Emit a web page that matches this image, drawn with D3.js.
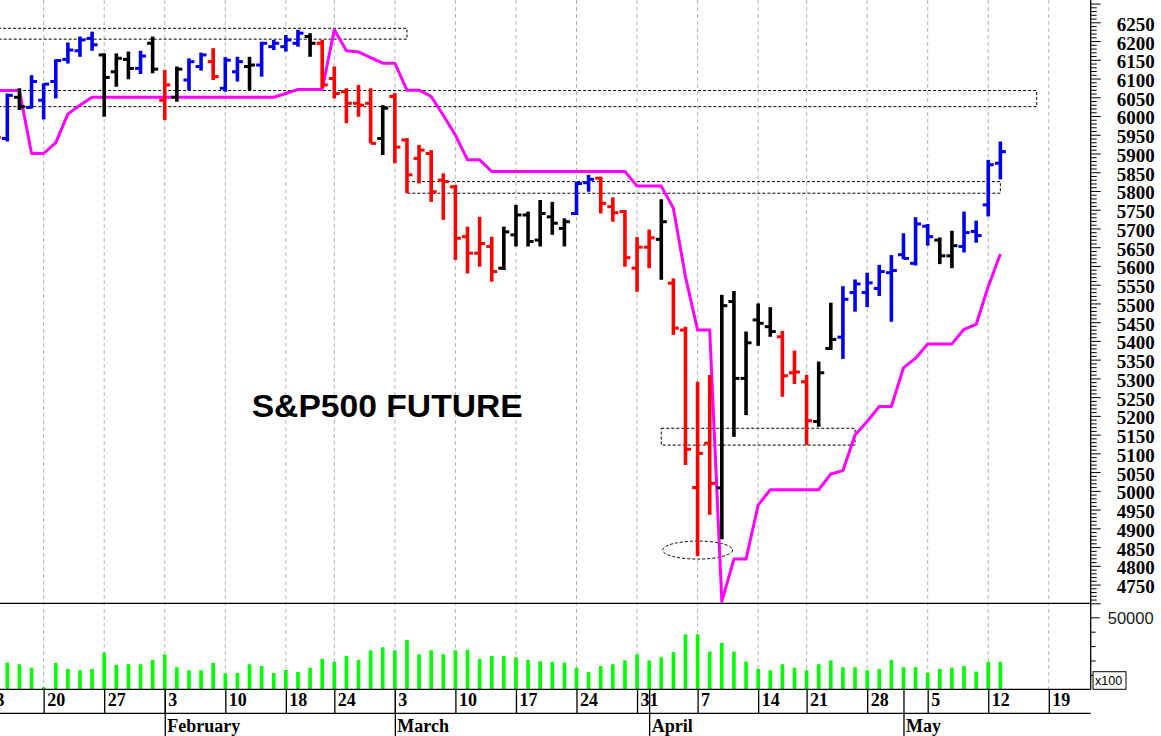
<!DOCTYPE html>
<html>
<head>
<meta charset="utf-8">
<script src="https://cdn.jsdelivr.net/npm/d3@7"></script>
<style>
  body { margin: 0; background: #fff; }
  svg { display: block; }
</style>
</head>
<body>
<svg id="chart" width="1161" height="736"></svg>
<script>
// trading days shown on the chart
var dates = [
  "2025-01-13","2025-01-14","2025-01-15","2025-01-16","2025-01-17",
  "2025-01-20","2025-01-21","2025-01-22","2025-01-23","2025-01-24",
  "2025-01-27","2025-01-28","2025-01-29","2025-01-30","2025-01-31",
  "2025-02-03","2025-02-04","2025-02-05","2025-02-06","2025-02-07",
  "2025-02-10","2025-02-11","2025-02-12","2025-02-13","2025-02-14",
  "2025-02-18","2025-02-19","2025-02-20","2025-02-21",
  "2025-02-24","2025-02-25","2025-02-26","2025-02-27","2025-02-28",
  "2025-03-03","2025-03-04","2025-03-05","2025-03-06","2025-03-07",
  "2025-03-10","2025-03-11","2025-03-12","2025-03-13","2025-03-14",
  "2025-03-17","2025-03-18","2025-03-19","2025-03-20","2025-03-21",
  "2025-03-24","2025-03-25","2025-03-26","2025-03-27","2025-03-28",
  "2025-03-31","2025-04-01","2025-04-02","2025-04-03","2025-04-04",
  "2025-04-07","2025-04-08","2025-04-09","2025-04-10","2025-04-11",
  "2025-04-14","2025-04-15","2025-04-16","2025-04-17",
  "2025-04-21","2025-04-22","2025-04-23","2025-04-24","2025-04-25",
  "2025-04-28","2025-04-29","2025-04-30","2025-05-01","2025-05-02",
  "2025-05-05","2025-05-06","2025-05-07","2025-05-08","2025-05-09",
  "2025-05-12","2025-05-13"
];
// empty days to the right of the last bar
var futureDates = ["2025-05-14","2025-05-15","2025-05-16","2025-05-19"];

var open = [5890,5950,5940,6050,6023, 6042,6092,6151,6174,6207, 6163,6118,6151,6127,6194,
  6042,6050,6096,6132,6145, 6074,6118,6132,6136,6185, 6185,6194,6212,6194,
  6100,6065,6034,6034,5940, 6052,5936,5887,5900,5829, 5811,5678,5634,5652,5594,
  5683,5736,5669,5731,5700, 5740,5822,5834,5758,5745, 5594,5650,5671,5554,5429,
  5009,5127,5008,5505,5300, 5456,5438,5411,5315, 5291,5185,5380,5410,5529,
  5529,5540,5582,5630,5607, 5706,5669,5627,5652,5692, 5763,5874];
var high = [5950,5975,6060,6074,6109, 6087,6151,6196,6212,6225, 6167,6167,6172,6174,6212,
  6123,6132,6154,6169,6181, 6157,6158,6158,6198,6203, 6216,6230,6221,6203,
  6132,6074,6083,6074,6029, 6061,5941,5923,5909,5847, 5816,5705,5731,5678,5705,
  5763,5745,5776,5771,5727, 5825,5843,5838,5783,5749, 5677,5697,5778,5567,5438,
  5291,5309,5523,5533,5425, 5500,5490,5427,5374, 5309,5345,5502,5546,5564,
  5582,5603,5629,5687,5730, 5712,5676,5694,5745,5721, 5883,5932];
var low = [5880,5920,5932,6016,6020, 5991,6047,6140,6158,6174, 5998,6078,6098,6112,6114,
  5989,6038,6069,6121,6096, 6065,6092,6069,6105,6176, 6172,6185,6158,6074,
  6047,5981,5998,5927,5896, 5874,5794,5820,5771,5723, 5616,5580,5598,5558,5589,
  5652,5652,5652,5683,5652, 5736,5798,5740,5718,5598, 5531,5594,5563,5416,5069,
  4826,4936,4871,5144,5202, 5387,5411,5251,5285, 5122,5171,5376,5352,5478,
  5490,5520,5451,5618,5601, 5654,5605,5594,5636,5662, 5732,5831];
var close = [5935,5943,6055,6025,6092, 6085,6148,6176,6203,6190, 6103,6154,6127,6160,6125,
  6083,6125,6145,6163,6105, 6149,6145,6136,6194,6194, 6203,6221,6194,6083,
  6060,6034,6029,5927,6021, 5917,5843,5909,5798,5825, 5674,5634,5660,5585,5691,
  5736,5665,5740,5714,5718, 5820,5831,5767,5742,5622, 5650,5675,5718,5434,5111,
  5100,5020,5494,5300,5395, 5447,5425,5307,5317, 5187,5315,5404,5511,5552,
  5555,5585,5588,5620,5712, 5678,5627,5654,5689,5681, 5870,5905];
// 1 = up trend (blue), -1 = down trend (red), 0 = neutral (black)
var trend = [-1,-1,1,0,1, 1,1,1,1,1, 0,0,0,1,0,
  -1,0,1,1,-1, 1,1,0,1,1, 1,1,0,-1,
  -1,-1,-1,-1,0, -1,-1,-1,-1,-1, -1,-1,-1,-1,0,
  0,0,0,0,0, 1,1,-1,-1,-1, -1,-1,0,-1,-1,
  -1,-1,0,0,0, 0,0,-1,-1, -1,0,0,1,1,
  1,1,1,1,1, 1,0,0,1,1, 1,1];
// magenta trailing stop line
var stopLine = [6068,6068,6068,6068,5900, 5900,5929,6005,6029,6050, 6050,6050,6050,6050,6050,
  6050,6050,6050,6050,6050, 6050,6050,6050,6050,6050, 6060,6071,6071,6071,
  6230,6174,6171,6156,6141, 6141,6069,6069,6052,6002, 5949,5883,5883,5852,5852,
  5852,5852,5852,5852,5852, 5852,5852,5852,5852,5852, 5813,5813,5813,5754,5571,
  5429,5429,4705,4818,4818, 4962,5003,5003,5003, 5003,5003,5045,5054,5149,
  5185,5225,5225,5328,5354, 5392,5392,5392,5431,5444, 5545,5632];
var volume = [19000,17000,18500,17400,15000, 1400,18300,14100,13200,14100,
  25500,16900,17400,17400,20400, 24100,15300,13200,13200,18300,
  11100,11300,17400,16200,11300, 13400,12000,15000,21100,
  19000,23100,20400,27100,29200, 27100,34300,24300,27100,24300,
  27100,27300,21100,23100,23100, 22200,20400,19400,19000,18500,
  15000,12000,16200,17400,20100, 24300,20100,22200,25900,38200,
  38200,26200,32200,26200,19200, 14100,13200,17400,15000,
  13200,17400,20100,15300,15300, 13200,14100,20400,15300,15300,
  11600,14100,15000,16200,12300, 19000,19000];

// axis labels
var weekTicks = ["2025-01-13","2025-01-20","2025-01-27","2025-02-03","2025-02-10","2025-02-18",
  "2025-02-24","2025-03-03","2025-03-10","2025-03-17","2025-03-24","2025-03-31","2025-04-07",
  "2025-04-14","2025-04-21","2025-04-28","2025-05-05","2025-05-12","2025-05-19"];
var monthTicks = ["2025-02-03","2025-03-03","2025-04-01","2025-05-01"];
var monthNames = ["February","March","April","May"];

// support / resistance boxes drawn on the chart [from, to, low, high]
var zones = [
  ["2025-01-13","2025-03-04",6205,6234],
  ["2025-01-13","2025-05-16",6025,6068],
  ["2025-03-04","2025-05-13",5794,5825],
  ["2025-04-02","2025-04-25",5122,5167]
];
var lowMark = ["2025-04-07", 4842];

var svg = d3.select("#chart");
var plotRight = 1090.7;   // price axis line
var priceBottom = 603.3;
var volBottom = 689.3;
var dateBottom = 713.3;

var allDates = dates.concat(futureDates);
var x = d3.scalePoint().domain(allDates).range([-16.9, 1048.8]);
var y = d3.scaleLinear().domain([4700, 6309.5]).range([priceBottom, 0]);
var yVol = d3.scaleLinear().domain([0, 50000]).range([volBottom, 617.3]);

var colorOf = function (t) { return t > 0 ? "#0000ee" : (t < 0 ? "#ff0000" : "#000000"); };

var bars = dates.map(function (d, i) {
  return { date: d, o: open[i], h: high[i], l: low[i], c: close[i], t: trend[i], s: stopLine[i], v: volume[i] };
});

var defs = svg.append("defs");
defs.append("clipPath").attr("id", "clipPrice").append("rect")
  .attr("x", 0).attr("y", 0).attr("width", plotRight).attr("height", priceBottom);
defs.append("clipPath").attr("id", "clipVol").append("rect")
  .attr("x", 0).attr("y", priceBottom).attr("width", plotRight).attr("height", volBottom - priceBottom);

// weekly dotted grid
svg.append("g").selectAll("line").data(weekTicks).enter().append("line")
  .attr("x1", function (d) { return x(d); }).attr("x2", function (d) { return x(d); })
  .attr("y1", 0).attr("y2", volBottom)
  .attr("stroke", "#b4b4b4").attr("stroke-width", 1).attr("stroke-dasharray", "4,3");

var price = svg.append("g").attr("clip-path", "url(#clipPrice)");

// dashed boxes
price.selectAll(".zone").data(zones).enter().append("rect")
  .attr("class", "zone")
  .attr("x", function (d) { return x(d[0]); })
  .attr("width", function (d) { return x(d[1]) - x(d[0]); })
  .attr("y", function (d) { return y(d[3]); })
  .attr("height", function (d) { return y(d[2]) - y(d[3]); })
  .attr("fill", "none").attr("stroke", "#000").attr("stroke-width", 1).attr("stroke-dasharray", "3,2");

price.append("ellipse")
  .attr("cx", x(lowMark[0])).attr("cy", y(lowMark[1]))
  .attr("rx", 35).attr("ry", 9)
  .attr("fill", "none").attr("stroke", "#000").attr("stroke-width", 1).attr("stroke-dasharray", "3,2");

// stop line
price.append("path").datum(bars)
  .attr("fill", "none").attr("stroke", "#ff00ff").attr("stroke-width", 3).attr("stroke-linejoin", "round")
  .attr("d", d3.line().x(function (d) { return x(d.date); }).y(function (d) { return y(d.s); }));

// OHLC bars
var ohlc = price.selectAll(".bar").data(bars).enter().append("g").attr("class", "bar")
  .attr("stroke", function (d) { return colorOf(d.t); });
ohlc.append("line")
  .attr("x1", function (d) { return x(d.date); }).attr("x2", function (d) { return x(d.date); })
  .attr("y1", function (d) { return y(d.h); }).attr("y2", function (d) { return y(d.l); })
  .attr("stroke-width", 3.6);
ohlc.append("line")
  .attr("x1", function (d) { return x(d.date) - 5.5; }).attr("x2", function (d) { return x(d.date); })
  .attr("y1", function (d) { return y(d.o); }).attr("y2", function (d) { return y(d.o); })
  .attr("stroke-width", 3);
ohlc.append("line")
  .attr("x1", function (d) { return x(d.date); }).attr("x2", function (d) { return x(d.date) + 5.5; })
  .attr("y1", function (d) { return y(d.c); }).attr("y2", function (d) { return y(d.c); })
  .attr("stroke-width", 3);

// volume
svg.append("g").attr("clip-path", "url(#clipVol)")
  .selectAll("rect").data(bars).enter().append("rect")
  .attr("x", function (d) { return x(d.date) - 1.8; })
  .attr("width", 3.6)
  .attr("y", function (d) { return yVol(d.v); })
  .attr("height", function (d) { return volBottom - yVol(d.v); })
  .attr("fill", "#00ff00");

svg.append("text")
  .attr("x", 251.7).attr("y", 417.3)
  .attr("textLength", 271).attr("lengthAdjust", "spacingAndGlyphs")
  .style("font", "bold 32px 'Liberation Sans', Arial, sans-serif")
  .text("S&P500 FUTURE");

// frame lines
var frame = svg.append("g").attr("stroke", "#000").attr("stroke-width", 1.3);
frame.append("line").attr("x1", plotRight).attr("x2", plotRight).attr("y1", 0).attr("y2", volBottom);
[priceBottom, volBottom, dateBottom].forEach(function (yy) {
  frame.append("line").attr("x1", 0).attr("x2", plotRight).attr("y1", yy).attr("y2", yy);
});

// price axis
var priceMajor = d3.axisRight(y).tickValues(d3.range(4700, 6301, 50)).tickSize(10)
  .tickFormat(function (d) { return (d >= 4750 && d <= 6250) ? d : ""; });
var gp = svg.append("g").attr("transform", "translate(" + plotRight + ",0)").call(priceMajor);
gp.selectAll("text").attr("x", 26).attr("dy", "0.42em").attr("text-anchor", "start")
  .style("font", "bold 19px 'Liberation Serif', 'Times New Roman', serif").attr("fill", "#000");
var minorVals = d3.range(4700, 6310, 10).filter(function (d) { return d % 50 !== 0; });
svg.append("g").attr("transform", "translate(" + plotRight + ",0)")
  .call(d3.axisRight(y).tickValues(minorVals).tickSize(6).tickFormat(""));

// volume axis
var gv = svg.append("g").attr("transform", "translate(" + plotRight + ",0)")
  .call(d3.axisRight(yVol).tickValues([50000]).tickSize(9).tickFormat(d3.format("d")));
gv.selectAll("text").attr("x", 17).attr("dy", "0.36em")
  .style("font", "16.5px 'Liberation Sans', Arial, sans-serif").attr("fill", "#1a1a1a");
svg.append("g").attr("transform", "translate(" + plotRight + ",0)")
  .call(d3.axisRight(yVol).tickValues([10000, 20000, 30000, 40000]).tickSize(5).tickFormat(""));
svg.selectAll(".domain").remove();

svg.append("rect").attr("x", 1093).attr("y", 671.7).attr("width", 33).attr("height", 17.6)
  .attr("fill", "#fff").attr("stroke", "#000").attr("stroke-width", 1);
svg.append("text").attr("x", 1095).attr("y", 685)
  .style("font", "12.5px 'Liberation Sans', Arial, sans-serif").text("x100");

// date axis
var gd = svg.append("g").attr("transform", "translate(0," + volBottom + ")")
  .call(d3.axisBottom(x).tickValues(weekTicks).tickSize(24)
    .tickFormat(function (d) { return +d.slice(8); }));
gd.select(".domain").remove();
gd.selectAll("line").attr("stroke", "#000").attr("stroke-width", 1.3);
gd.selectAll("text").attr("x", 3).attr("y", 17).attr("dy", 0).attr("text-anchor", "start")
  .style("font", "bold 18px 'Liberation Serif', 'Times New Roman', serif").attr("fill", "#000");

// month axis
var gm = svg.append("g").attr("transform", "translate(0," + volBottom + ")")
  .call(d3.axisBottom(x).tickValues(monthTicks).tickSize(47)
    .tickFormat(function (d, i) { return monthNames[i]; }));
gm.select(".domain").remove();
gm.selectAll("line").attr("stroke", "#000").attr("stroke-width", 1.3);
gm.selectAll("text").attr("x", 2).attr("y", 42.4).attr("dy", 0).attr("text-anchor", "start")
  .style("font", "bold 18px 'Liberation Serif', 'Times New Roman', serif").attr("fill", "#000");
</script>
</body>
</html>
